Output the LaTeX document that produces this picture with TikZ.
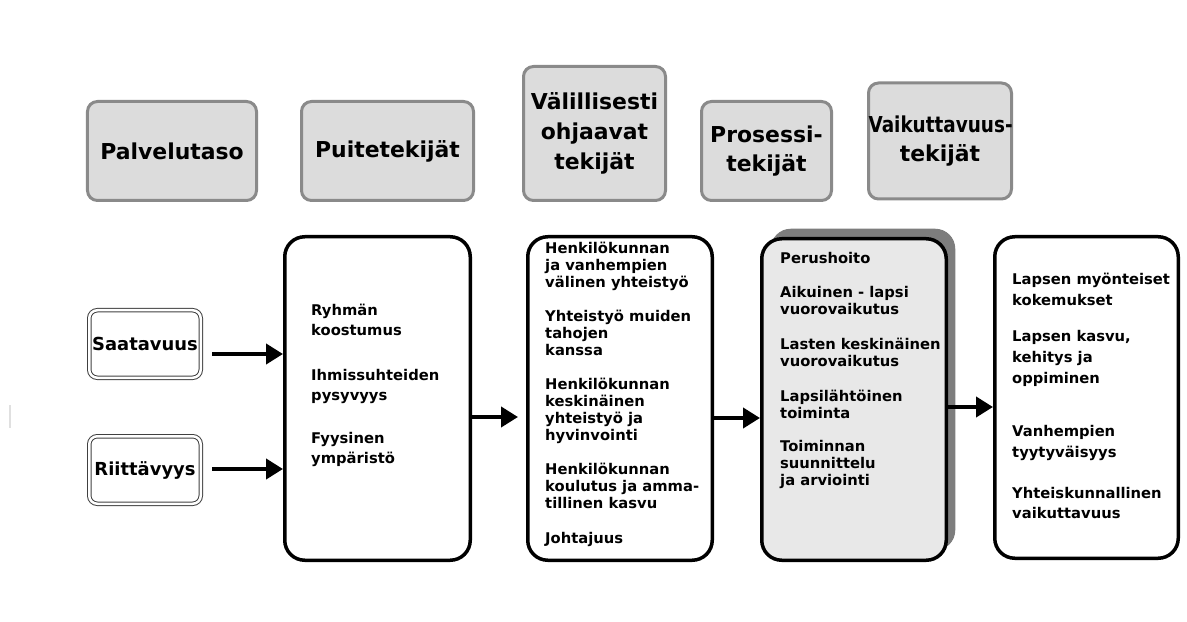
\documentclass[tikz,border=0pt]{standalone}
\usepackage{fontspec}
\setmainfont{DejaVu Sans}
\newfontfamily\mynarrow[FakeStretch=0.84]{DejaVu Sans}
\usetikzlibrary{positioning,arrows.meta,shadows}
\definecolor{myframe}{RGB}{138,138,138}
\definecolor{myhead}{RGB}{220,220,220}
\definecolor{myproc}{RGB}{232,232,232}
\definecolor{myshadow}{RGB}{125,125,125}
\newcommand\myfont[2]{\bfseries\fontsize{#1}{#2}\selectfont}

\begin{document}
\begin{tikzpicture}[x=1bp,y=-1bp,
    head/.style={draw=myframe,line width=3bp,fill=myhead,rounded corners=10bp,
      align=center,inner sep=0pt,font=\myfont{22}{30}},
    col/.style={draw,line width=3.5bp,rounded corners=20bp,inner sep=0pt},
    src/.style={draw=black!75,line width=1bp,double=white,double distance=2.5bp,
      rounded corners=8bp,inner sep=0pt,font=\myfont{18}{20},
      minimum width=111.5bp,minimum height=67.5bp},
    txt/.style={align=left,inner sep=0pt,anchor=north west},
    arr/.style={->,line width=4bp},
    >={Triangle[length=17bp,width=20bp]}]
    \useasboundingbox (0,0) rectangle (1187,622);
    \draw[black!12,line width=2bp] (10,405) -- (10,428);

    % otsikot
    \node[head,text width=169bp,minimum height=99bp] (palv) at (172,151) {Palvelutaso};
    \node[head,text width=172bp,minimum height=99bp] (puiteh) at (387.5,151) {Puitetekijät};
    \node[head,text width=142bp,minimum height=134bp] (valh) at (594.5,133.5)
      {Välillisesti\\ohjaavat\\tekijät};
    \node[head,text width=130bp,minimum height=99bp] (prosh) at (766.5,151)
      {\mbox{Prosessi-}\\tekijät};
    \node[head,text width=143bp,minimum height=116bp] (vaikh) at (940,141)
      {\mbox{\mynarrow Vaikuttavuus-}\\tekijät};

    % palvelutaso
    \node[src] (saat) at (145,344) {Saatavuus};
    \node[src] (riit) at (145,470) {Riittävyys};

    % tekijat
    \node[col,minimum width=185.5bp,minimum height=323.5bp] (puite) at (377.5,398.5) {};
    \node[col,minimum width=184.5bp,minimum height=323.5bp] (valill) at (620,398.5) {};
    \node[col,fill=myproc,minimum width=184.5bp,minimum height=321.5bp,
      drop shadow={shadow xshift=9bp,shadow yshift=10bp,fill=myshadow,opacity=1}]
      (pros) at (854,399.5) {};
    \node[col,minimum width=183.5bp,minimum height=321.5bp] (vaik) at (1086.5,397.5) {};

    \node[txt,below right=69bp and 28bp of puite.north west,font=\myfont{14.8}{20}] (puitet)
      {Ryhmän\\koostumus\\[25bp]Ihmissuhteiden\\pysyvyys\\[23bp]Fyysinen\\ympäristö};
    \node[txt,below right=7bp and 19bp of valill.north west,font=\myfont{14.8}{17}] (valillt)
      {Henkilökunnan\\ja vanhempien\\välinen yhteistyö\\[17bp]Yhteistyö muiden\\tahojen\\kanssa\\[17bp]%
       Henkilökunnan\\keskinäinen\\yhteistyö ja\\hyvinvointi\\[18bp]%
       Henkilökunnan\\koulutus ja amma-\\tillinen kasvu\\[18bp]Johtajuus};
    \node[txt,below right=15bp and 20bp of pros.north west,font=\myfont{14.8}{17}] (prost)
      {Perushoito\\[17bp]Aikuinen - lapsi\\vuorovaikutus\\[18bp]Lasten keskinäinen\\vuorovaikutus\\[18bp]%
       Lapsilähtöinen\\toiminta\\[17bp]Toiminnan\\suunnittelu\\ja arviointi};
    \node[txt,below right=38bp and 19bp of vaik.north west,font=\myfont{14.8}{21}] (vaikt)
      {Lapsen myönteiset\\kokemukset\\[15bp]Lapsen kasvu,\\kehitys ja\\oppiminen\\[32bp]%
       Vanhempien\\tyytyväisyys\\[20bp]Yhteiskunnallinen\\vaikuttavuus};

    % nuolet
    \coordinate (a1) at ([xshift=11bp,yshift=-10bp]saat.east);
    \coordinate (a2) at ([xshift=11bp,yshift=1bp]riit.east);
    \coordinate (a3) at ([yshift=-18.5bp]puite.east);
    \coordinate (a4) at ([yshift=-19.5bp]valill.east);
    \coordinate (a5) at ([yshift=-7.5bp]pros.east);
    \draw[arr] (a1) -- (a1 -| puite.west);
    \draw[arr] (a2) -- (a2 -| puite.west);
    \draw[arr,shorten >=8bp] (a3) -- (a3 -| valill.west);
    \draw[arr] (a4) -- (a4 -| pros.west);
    \draw[arr] (a5) -- (a5 -| vaik.west);
\end{tikzpicture}
\end{document}
